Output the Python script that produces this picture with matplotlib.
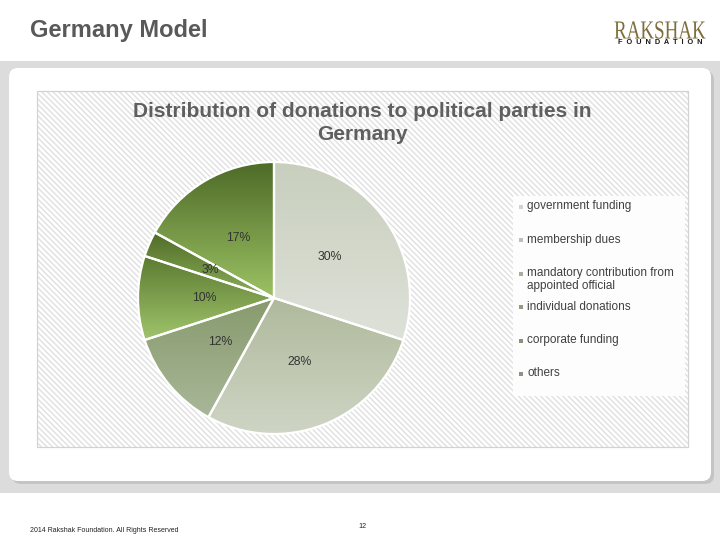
import matplotlib
matplotlib.use("Agg")
import matplotlib.pyplot as plt
import numpy as np
from matplotlib.patches import Rectangle, FancyBboxPatch, PathPatch
from matplotlib.textpath import TextPath
from matplotlib.font_manager import FontProperties
from matplotlib.colors import to_rgb
from matplotlib.transforms import Affine2D

plt.rcParams['font.family'] = ['Liberation Sans', 'DejaVu Sans']

# data
labels = ['government funding', 'membership dues',
          'mandatory contribution from\nappointed official',
          'individual donations', 'corporate funding', 'others']
shares = [30, 28, 12, 10, 3, 17]

# slice gradients (top -> bottom) and legend swatches
top_colors = ['#c8cfbd', '#afba9c', '#879a6c', '#5b7a30', '#4f6c28', '#4d6a27']
bottom_colors = ['#dee1d9', '#cfd5c5', '#a9b799', '#a0c46c', '#8db058', '#9cc264']
swatch_colors = ['#d2d4cc', '#bcc0b2', '#a8ad9c', '#909c80', '#8a937a', '#8a9480']

fig = plt.figure(figsize=(7.2, 5.4), dpi=100)

# background in pixel coords
bg = fig.add_axes([0, 0, 1, 1])
bg.set_xlim(0, 720)
bg.set_ylim(540, 0)
bg.axis('off')

bg.add_patch(Rectangle((0, 61), 720, 432, facecolor='#dcdcdc', edgecolor='none'))
bg.add_patch(FancyBboxPatch((12, 71), 702, 413, boxstyle='round,pad=0,rounding_size=9',
                            facecolor='#c4c4c4', edgecolor='none'))
bg.add_patch(FancyBboxPatch((9, 68), 702, 413, boxstyle='round,pad=0,rounding_size=9',
                            facecolor='white', edgecolor='none'))
bg.add_patch(Rectangle((37, 91), 651, 356, facecolor='white', edgecolor='#e0e0e0',
                       hatch='\\\\\\\\\\\\', linewidth=0.8))
bg.add_patch(Rectangle((37, 91), 651, 356, facecolor='none', edgecolor='#d2d2d2', linewidth=0.8))
bg.add_patch(Rectangle((513, 196), 172, 200, facecolor='#fdfdfd', edgecolor='none'))

# header
bg.text(30, 30, 'Germany Model', fontsize=17, fontweight='bold', color='#595959',
        ha='left', va='center')
tp = TextPath((0, 0), 'RAKSHAK', size=26, prop=FontProperties(family='Liberation Serif'))
logo_tr = Affine2D().scale(0.73, -1).translate(614, 38.5)
bg.add_patch(PathPatch(logo_tr.transform_path(tp), facecolor='#7d6e3c', edgecolor='none'))
bg.text(660, 43, 'F  O  U  N  D  A  T  I  O  N', fontsize=5.3, fontweight='bold',
        color='#1a1a1a', ha='center', va='center')

# chart title
bg.text(362, 123, 'Distribution of donations to political parties in\nGermany', fontsize=15,
        fontweight='bold', color='#5f5f5f', ha='center', va='center', linespacing=1.22)

# footer
bg.text(30, 531, '2014 Rakshak Foundation. All Rights Reserved', fontsize=5,
        color='#222222', ha='left', va='center')
bg.text(362, 526, '12', fontsize=5.2, color='#222222', ha='center', va='center')

# pie
cx, cy, r = 274, 298, 136
lim = 1.05
half = r * lim
ax = fig.add_axes([(cx - half) / 720, (540 - cy - half) / 540, 2 * half / 720, 2 * half / 540])
wedges, texts, autotexts = ax.pie(shares, startangle=90, counterclock=False,
                                  autopct='%1.0f%%', pctdistance=0.51,
                                  wedgeprops=dict(edgecolor='white', linewidth=1.6),
                                  textprops=dict(fontsize=8.8, color='#333333'))

t = np.linspace(0, 1, 256)[:, None, None]
for w, c0, c1 in zip(wedges, top_colors, bottom_colors):
    v = w.get_path().vertices
    grad = np.array(to_rgb(c0)) * (1 - t) + np.array(to_rgb(c1)) * t
    im = ax.imshow(grad, extent=(v[:, 0].min(), v[:, 0].max(), v[:, 1].min(), v[:, 1].max()),
                   origin='upper', aspect='auto', interpolation='bilinear', zorder=1)
    im.set_clip_path(w)
    w.set_facecolor('none')
    w.set_zorder(2)
for txt in autotexts:
    txt.set_zorder(3)

ax.set_aspect('equal')
ax.set_xlim(-lim, lim)
ax.set_ylim(-lim, lim)
ax.axis('off')

# legend
y0, dy = 207, 33.4
for i, (lab, col) in enumerate(zip(labels, swatch_colors)):
    y = y0 + i * dy
    bg.scatter([520.5], [y], marker='s', s=9, color=col, linewidths=0)
    bg.text(527, y - 6.5, lab, fontsize=8.5, color='#404040', ha='left', va='top',
            linespacing=1.05)

fig.savefig('out.png', dpi=100)
